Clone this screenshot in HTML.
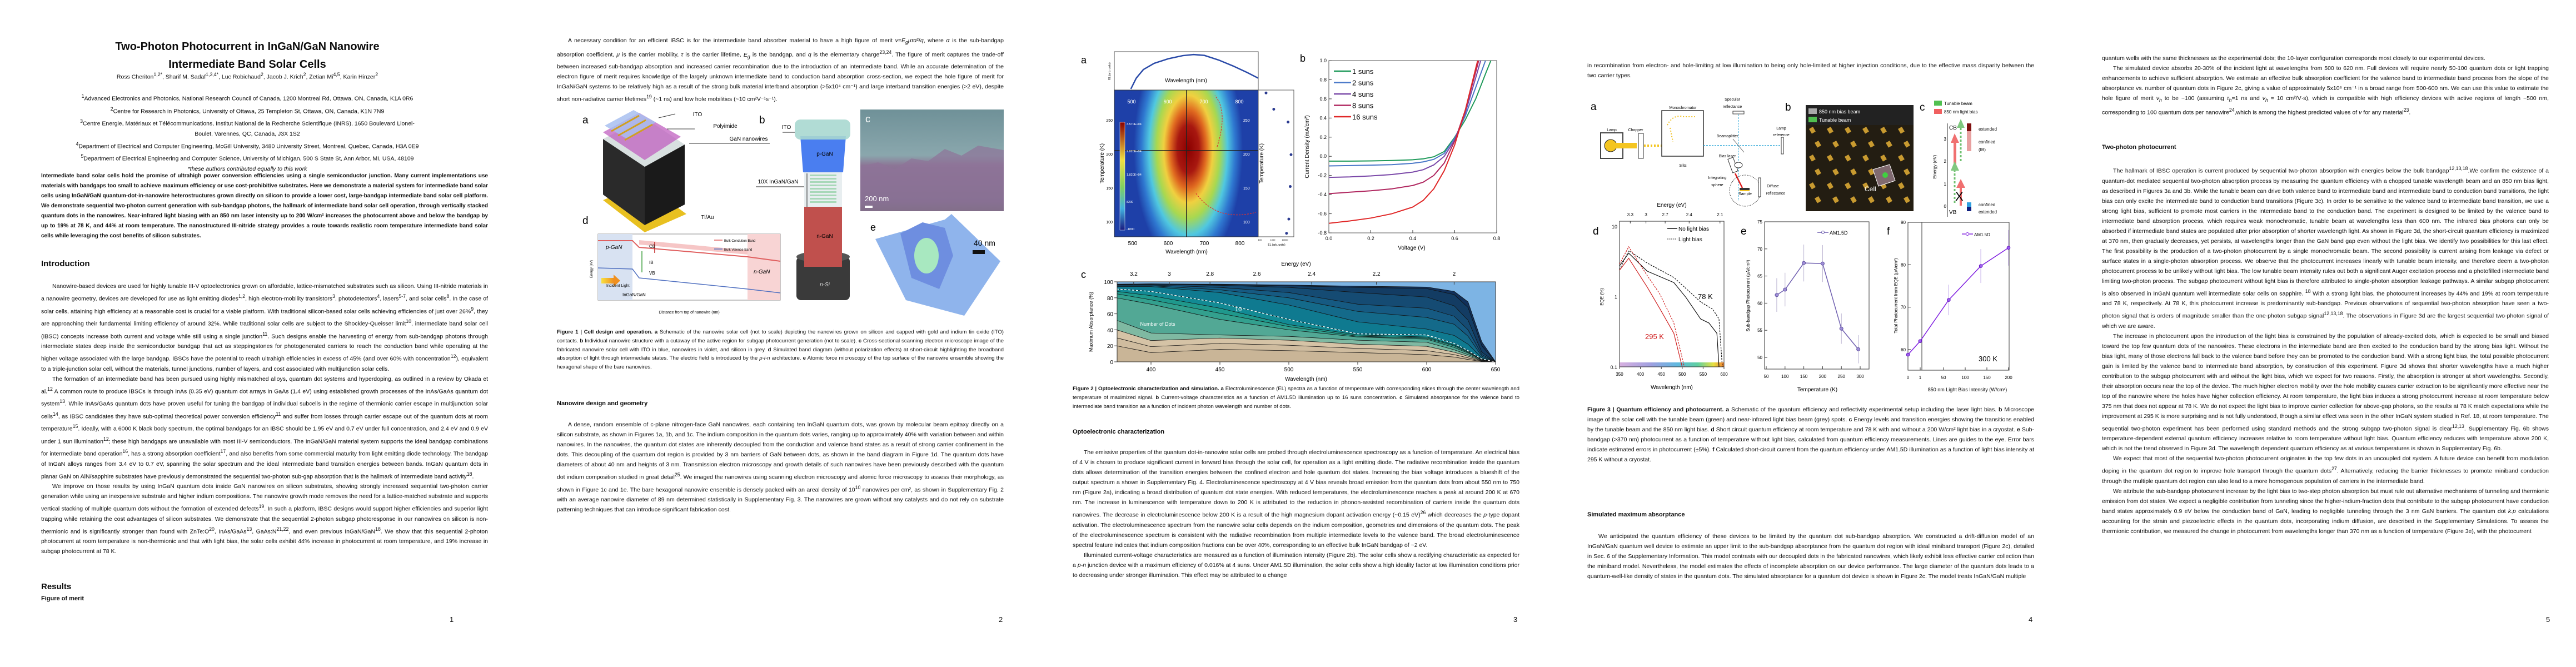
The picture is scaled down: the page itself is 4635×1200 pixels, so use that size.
<!DOCTYPE html>
<html><head><meta charset="utf-8">
<style>
html,body{margin:0;padding:0;background:#fff;}
#root{position:relative;width:4635px;height:1200px;overflow:hidden;background:#fff;font-family:"Liberation Sans",sans-serif;color:#0c0c0c;}
.t{position:absolute;font-size:10.5px;line-height:18px;text-align:justify;overflow:hidden;}
.t p{margin:0;text-indent:20px;}
.c{position:absolute;text-align:center;white-space:nowrap;}
.cap{position:absolute;font-size:9.6px;line-height:15.8px;text-align:justify;overflow:hidden;}
.h{position:absolute;font-weight:bold;white-space:nowrap;}
.pn{position:absolute;font-size:13px;}
svg text{font-family:"Liberation Sans",sans-serif;}
</style></head>
<body>
<div id="root">

<!-- ============ PAGE 1 ============ -->
<div class="c" style="left:0;width:890px;top:68px;font-size:20px;font-weight:bold;line-height:32px;">Two-Photon Photocurrent in InGaN/GaN Nanowire<br>Intermediate Band Solar Cells</div>
<div class="c" style="left:0;width:890px;top:129px;font-size:10.5px;">Ross Cheriton<sup>1,2*</sup>, Sharif M. Sadaf<sup>1,3,4*</sup>, Luc Robichaud<sup>2</sup>, Jacob J. Krich<sup>2</sup>, Zetian Mi<sup>4,5</sup>, Karin Hinzer<sup>2</sup></div>
<div class="c" style="left:0;width:890px;top:164px;font-size:10.5px;line-height:18px;"><sup>1</sup>Advanced Electronics and Photonics, National Research Council of Canada, 1200 Montreal Rd, Ottawa, ON, Canada, K1A 0R6<br><sup>2</sup>Centre for Research in Photonics, University of Ottawa, 25 Templeton St, Ottawa, ON, Canada, K1N 7N9<br><sup>3</sup>Centre Energie, Matériaux et Télécommunications, Institut National de la Recherche Scientifique (INRS), 1650 Boulevard Lionel-<br>Boulet, Varennes, QC, Canada, J3X 1S2<br><sup>4</sup>Department of Electrical and Computer Engineering, McGill University, 3480 University Street, Montreal, Quebec, Canada, H3A 0E9<br><sup>5</sup>Department of Electrical Engineering and Computer Science, University of Michigan, 500 S State St, Ann Arbor, MI, USA, 48109<br><i>*these authors contributed equally to this work</i></div>
<div class="t" style="left:74px;top:308px;width:804px;height:144px;font-weight:bold;font-size:10px;">Intermediate band solar cells hold the promise of ultrahigh power conversion efficiencies using a single semiconductor junction. Many current implementations use materials with bandgaps too small to achieve maximum efficiency or use cost-prohibitive substrates. Here we demonstrate a material system for intermediate band solar cells using InGaN/GaN quantum-dot-in-nanowire heterostructures grown directly on silicon to provide a lower cost, large-bandgap intermediate band solar cell platform. We demonstrate sequential two-photon current generation with sub-bandgap photons, the hallmark of intermediate band solar cell operation, through vertically stacked quantum dots in the nanowires. Near-infrared light biasing with an 850 nm laser intensity up to 200 W/cm² increases the photocurrent above and below the bandgap by up to 19% at 78 K, and 44% at room temperature. The nanostructured III-nitride strategy provides a route towards realistic room temperature intermediate band solar cells while leveraging the cost benefits of silicon substrates.</div>
<div class="h" style="left:74px;top:466px;font-size:15px;">Introduction</div>
<div class="t" style="left:74px;top:506px;width:804px;height:522px;">
<p>Nanowire-based devices are used for highly tunable III-V optoelectronics grown on affordable, lattice-mismatched substrates such as silicon. Using III-nitride materials in a nanowire geometry, devices are developed for use as light emitting diodes<sup>1,2</sup>, high electron-mobility transistors<sup>3</sup>, photodetectors<sup>4</sup>, lasers<sup>5-7</sup>, and solar cells<sup>8</sup>. In the case of solar cells, attaining high efficiency at a reasonable cost is crucial for a viable platform. With traditional silicon-based solar cells achieving efficiencies of just over 26%<sup>9</sup>, they are approaching their fundamental limiting efficiency of around 32%. While traditional solar cells are subject to the Shockley-Queisser limit<sup>10</sup>, intermediate band solar cell (IBSC) concepts increase both current and voltage while still using a single junction<sup>11</sup>. Such designs enable the harvesting of energy from sub-bandgap photons through intermediate states deep inside the semiconductor bandgap that act as steppingstones for photogenerated carriers to reach the conduction band while operating at the higher voltage associated with the large bandgap. IBSCs have the potential to reach ultrahigh efficiencies in excess of 45% (and over 60% with concentration<sup>12</sup>), equivalent to a triple-junction solar cell, without the materials, tunnel junctions, number of layers, and cost associated with multijunction solar cells.</p>
<p>The formation of an intermediate band has been pursued using highly mismatched alloys, quantum dot systems and hyperdoping, as outlined in a review by Okada et al.<sup>12</sup> A common route to produce IBSCs is through InAs (0.35 eV) quantum dot arrays in GaAs (1.4 eV) using established growth processes of the InAs/GaAs quantum dot system<sup>13</sup>. While InAs/GaAs quantum dots have proven useful for tuning the bandgap of individual subcells in the regime of thermionic carrier escape in multijunction solar cells<sup>14</sup>, as IBSC candidates they have sub-optimal theoretical power conversion efficiency<sup>11</sup> and suffer from losses through carrier escape out of the quantum dots at room temperature<sup>15</sup>. Ideally, with a 6000 K black body spectrum, the optimal bandgaps for an IBSC should be 1.95 eV and 0.7 eV under full concentration, and 2.4 eV and 0.9 eV under 1 sun illumination<sup>12</sup>; these high bandgaps are unavailable with most III-V semiconductors. The InGaN/GaN material system supports the ideal bandgap combinations for intermediate band operation<sup>16</sup>, has a strong absorption coefficient<sup>17</sup>, and also benefits from some commercial maturity from light emitting diode technology. The bandgap of InGaN alloys ranges from 3.4 eV to 0.7 eV, spanning the solar spectrum and the ideal intermediate band transition energies between bands. InGaN quantum dots in planar GaN on AlN/sapphire substrates have previously demonstrated the sequential two-photon sub-gap absorption that is the hallmark of intermediate band activity<sup>18</sup>.</p>
<p>We improve on those results by using InGaN quantum dots inside GaN nanowires on silicon substrates, showing strongly increased sequential two-photon carrier generation while using an inexpensive substrate and higher indium compositions. The nanowire growth mode removes the need for a lattice-matched substrate and supports vertical stacking of multiple quantum dots without the formation of extended defects<sup>19</sup>. In such a platform, IBSC designs would support higher efficiencies and superior light trapping while retaining the cost advantages of silicon substrates. We demonstrate that the sequential 2-photon subgap photoresponse in our nanowires on silicon is non-thermionic and is significantly stronger than found with ZnTe:O<sup>20</sup>, InAs/GaAs<sup>13</sup>, GaAs:N<sup>21,22</sup>, and even previous InGaN/GaN<sup>18</sup>. We show that this sequential 2-photon photocurrent at room temperature is non-thermionic and that with light bias, the solar cells exhibit 44% increase in photocurrent at room temperature, and 19% increase in subgap photocurrent at 78 K.</p>
</div>
<div class="h" style="left:74px;top:1047px;font-size:15px;">Results</div>
<div class="h" style="left:74px;top:1071px;font-size:11px;">Figure of merit</div>
<div class="pn" style="left:809px;top:1107px;">1</div>

<!-- ============ PAGE 2 ============ -->
<div class="t" style="left:1002px;top:64px;width:804px;height:126px;"><p>A necessary condition for an efficient IBSC is for the intermediate band absorber material to have a high figure of merit <i>v</i>=<i>E<sub>g</sub>μτα</i>²/<i>q</i>, where <i>α</i> is the sub-bandgap absorption coefficient, <i>μ</i> is the carrier mobility, <i>τ</i> is the carrier lifetime, <i>E<sub>g</sub></i> is the bandgap, and <i>q</i> is the elementary charge<sup>23,24</sup>. The figure of merit captures the trade-off between increased sub-bandgap absorption and increased carrier recombination due to the introduction of an intermediate band. While an accurate determination of the electron figure of merit requires knowledge of the largely unknown intermediate band to conduction band absorption cross-section, we expect the hole figure of merit for InGaN/GaN systems to be relatively high as a result of the strong bulk material interband absorption (&gt;5x10⁴ cm⁻¹) and large interband transition energies (&gt;2 eV), despite short non-radiative carrier lifetimes<sup>19</sup> (~1 ns) and low hole mobilities (~10 cm²V⁻¹s⁻¹).</p></div>
<div class="cap" style="left:1002px;top:590px;width:804px;height:80px;"><b>Figure 1 | Cell design and operation. a</b> Schematic of the nanowire solar cell (not to scale) depicting the nanowires grown on silicon and capped with gold and indium tin oxide (ITO) contacts. <b>b</b> Individual nanowire structure with a cutaway of the active region for subgap photocurrent generation (not to scale). <b>c</b> Cross-sectional scanning electron microscope image of the fabricated nanowire solar cell with ITO in blue, nanowires in violet, and silicon in grey. <b>d</b> Simulated band diagram (without polarization effects) at short-circuit highlighting the broadband absorption of light through intermediate states. The electric field is introduced by the <i>p-i-n</i> architecture. <b>e</b> Atomic force microscopy of the top surface of the nanowire ensemble showing the hexagonal shape of the bare nanowires.</div>
<div class="h" style="left:1002px;top:720px;font-size:11px;">Nanowire design and geometry</div>
<div class="t" style="left:1002px;top:755px;width:804px;height:180px;"><p>A dense, random ensemble of c-plane nitrogen-face GaN nanowires, each containing ten InGaN quantum dots, was grown by molecular beam epitaxy directly on a silicon substrate, as shown in Figures 1a, 1b, and 1c. The indium composition in the quantum dots varies, ranging up to approximately 40% with variation between and within nanowires. In the nanowires, the quantum dot states are inherently decoupled from the conduction and valence band states as a result of strong carrier confinement in the dots. This decoupling of the quantum dot region is provided by 3 nm barriers of GaN between dots, as shown in the band diagram in Figure 1d. The quantum dots have diameters of about 40 nm and heights of 3 nm. Transmission electron microscopy and growth details of such nanowires have been previously described with the quantum dot indium composition studied in great detail<sup>25</sup>. We imaged the nanowires using scanning electron microscopy and atomic force microscopy to assess their morphology, as shown in Figure 1c and 1e. The bare hexagonal nanowire ensemble is densely packed with an areal density of 10<sup>10</sup> nanowires per cm², as shown in Supplementary Fig. 2 with an average nanowire diameter of 89 nm determined statistically in Supplementary Fig. 3. The nanowires are grown without any catalysts and do not rely on substrate patterning techniques that can introduce significant fabrication cost.</p></div>
<div class="pn" style="left:1797px;top:1107px;">2</div>

<!-- ============ PAGE 3 ============ -->
<div class="cap" style="left:1930px;top:692px;width:804px;height:48px;"><b>Figure 2 | Optoelectronic characterization and simulation. a</b> Electroluminescence (EL) spectra as a function of temperature with corresponding slices through the center wavelength and temperature of maximized signal. <b>b</b> Current-voltage characteristics as a function of AM1.5D illumination up to 16 suns concentration. <b>c</b> Simulated absorptance for the valence band to intermediate band transition as a function of incident photon wavelength and number of dots.</div>
<div class="h" style="left:1930px;top:771px;font-size:11px;">Optoelectronic characterization</div>
<div class="t" style="left:1930px;top:805px;width:804px;height:270px;"><p>The emissive properties of the quantum dot-in-nanowire solar cells are probed through electroluminescence spectroscopy as a function of temperature. An electrical bias of 4 V is chosen to produce significant current in forward bias through the solar cell, for operation as a light emitting diode. The radiative recombination inside the quantum dots allows determination of the transition energies between the confined electron and hole quantum dot states. Increasing the bias voltage introduces a blueshift of the output spectrum a shown in Supplementary Fig. 4. Electroluminescence spectroscopy at 4 V bias reveals broad emission from the quantum dots from about 550 nm to 750 nm (Figure 2a), indicating a broad distribution of quantum dot state energies. With reduced temperatures, the electroluminescence reaches a peak at around 200 K at 670 nm. The increase in luminescence with temperature down to 200 K is attributed to the reduction in phonon-assisted recombination of carriers inside the quantum dots nanowires. The decrease in electroluminescence below 200 K is a result of the high magnesium dopant activation energy (~0.15 eV)<sup>26</sup> which decreases the <i>p</i>-type dopant activation. The electroluminescence spectrum from the nanowire solar cells depends on the indium composition, geometries and dimensions of the quantum dots. The peak of the electroluminescence spectrum is consistent with the radiative recombination from multiple intermediate levels to the valence band. The broad electroluminescence spectral feature indicates that indium composition fractions can be over 40%, corresponding to an effective bulk InGaN bandgap of ~2 eV.</p><p>Illuminated current-voltage characteristics are measured as a function of illumination intensity (Figure 2b). The solar cells show a rectifying characteristic as expected for a <i>p-n</i> junction device with a maximum efficiency of 0.016% at 4 suns. Under AM1.5D illumination, the solar cells show a high ideality factor at low illumination conditions prior to decreasing under stronger illumination. This effect may be attributed to a change</p></div>
<div class="pn" style="left:2723px;top:1107px;">3</div>

<!-- ============ PAGE 4 ============ -->
<div class="t" style="left:2856px;top:109px;width:804px;height:36px;">in recombination from electron- and hole-limiting at low illumination to being only hole-limited at higher injection conditions, due to the effective mass disparity between the two carrier types.</div>
<div class="t" style="left:2856px;top:728px;width:804px;height:126px;"><b>Figure 3 | Quantum efficiency and photocurrent. a</b> Schematic of the quantum efficiency and reflectivity experimental setup including the laser light bias. <b>b</b> Microscope image of the solar cell with the tunable beam (green) and near-infrared light bias beam (grey) spots. <b>c</b> Energy levels and transition energies showing the transitions enabled by the tunable beam and the 850 nm light bias. <b>d</b> Short circuit quantum efficiency at room temperature and 78 K with and without a 200 W/cm² light bias in a cryostat. <b>e</b> Sub-bandgap (&gt;370 nm) photocurrent as a function of temperature without light bias, calculated from quantum efficiency measurements. Lines are guides to the eye. Error bars indicate estimated errors in photocurrent (±5%). <b>f</b> Calculated short-circuit current from the quantum efficiency under AM1.5D illumination as a function of light bias intensity at 295 K without a cryostat.</div>
<div class="h" style="left:2856px;top:920px;font-size:11px;">Simulated maximum absorptance</div>
<div class="t" style="left:2856px;top:956px;width:804px;height:108px;"><p>We anticipated the quantum efficiency of these devices to be limited by the quantum dot sub-bandgap absorption. We constructed a drift-diffusion model of an InGaN/GaN quantum well device to estimate an upper limit to the sub-bandgap absorptance from the quantum dot region with ideal miniband transport (Figure 2c), detailed in Sec. 6 of the Supplementary Information. This model contrasts with our decoupled dots in the fabricated nanowires, which likely exhibit less effective carrier collection than the miniband model. Nevertheless, the model estimates the effects of incomplete absorption on our device performance. The large diameter of the quantum dots leads to a quantum-well-like density of states in the quantum dots. The simulated absorptance for a quantum dot device is shown in Figure 2c. The model treats InGaN/GaN multiple</p></div>
<div class="pn" style="left:3650px;top:1107px;">4</div>

<!-- ============ PAGE 5 ============ -->
<div class="t" style="left:3782px;top:96px;width:804px;height:144px;">quantum wells with the same thicknesses as the experimental dots; the 10-layer configuration corresponds most closely to our experimental devices.<p>The simulated device absorbs 20-30% of the incident light at wavelengths from 500 to 620 nm. Full devices will require nearly 50-100 quantum dots or light trapping enhancements to achieve sufficient absorption. We estimate an effective bulk absorption coefficient for the valence band to intermediate band process from the slope of the absorptance vs. number of quantum dots in Figure 2c, giving a value of approximately 5x10⁵ cm⁻¹ in a broad range from 500-600 nm. We can use this value to estimate the hole figure of merit <i>v<sub>h</sub></i> to be ~100 (assuming <i>τ<sub>h</sub></i>=1 ns and <i>v<sub>h</sub></i> = 10 cm²/V·s), which is compatible with high efficiency devices with active regions of length ~500 nm, corresponding to 100 quantum dots per nanowire<sup>24</sup>,which is among the highest predicted values of <i>v</i> for any material<sup>23</sup>.</p></div>
<div class="h" style="left:3782px;top:259px;font-size:11px;">Two-photon photocurrent</div>
<div class="t" style="left:3782px;top:294px;width:804px;height:792px;"><p>The hallmark of IBSC operation is current produced by sequential two-photon absorption with energies below the bulk bandgap<sup>12,13,18</sup>.We confirm the existence of a quantum-dot mediated sequential two-photon absorption process by measuring the quantum efficiency with a chopped tunable wavelength beam and an 850 nm bias light, as described in Figures 3a and 3b. While the tunable beam can drive both valence band to intermediate band and intermediate band to conduction band transitions, the light bias can only excite the intermediate band to conduction band transitions (Figure 3c). In order to be sensitive to the valence band to intermediate band transition, we use a strong light bias, sufficient to promote most carriers in the intermediate band to the conduction band. The experiment is designed to be limited by the valence band to intermediate band absorption process, which requires weak monochromatic, tunable beam at wavelengths less than 600 nm. The infrared bias photons can only be absorbed if intermediate band states are populated after prior absorption of shorter wavelength light. As shown in Figure 3d, the short-circuit quantum efficiency is maximized at 370 nm, then gradually decreases, yet persists, at wavelengths longer than the GaN band gap even without the light bias. We identify two possibilities for this last effect. The first possibility is the production of a two-photon photocurrent by a single monochromatic beam. The second possibility is current arising from leakage via defect or surface states in a single-photon absorption process. We observe that the photocurrent increases linearly with tunable beam intensity, and therefore deem a two-photon photocurrent process to be unlikely without light bias. The low tunable beam intensity rules out both a significant Auger excitation process and a photofilled intermediate band limiting two-photon process. The subgap photocurrent without light bias is therefore attributed to single-photon absorption leakage pathways. A similar subgap photocurrent is also observed in InGaN quantum well intermediate solar cells on sapphire. <sup>18</sup> With a strong light bias, the photocurrent increases by 44% and 19% at room temperature and 78 K, respectively. At 78 K, this photocurrent increase is predominantly sub-bandgap. Previous observations of sequential two-photon absorption have seen a two-photon signal that is orders of magnitude smaller than the one-photon subgap signal<sup>12,13,18</sup>. The observations in Figure 3d are the largest sequential two-photon signal of which we are aware.</p><p>The increase in photocurrent upon the introduction of the light bias is constrained by the population of already-excited dots, which is expected to be small and biased toward the top few quantum dots of the nanowires. These electrons in the intermediate band are then excited to the conduction band by the strong bias light. Without the bias light, many of those electrons fall back to the valence band before they can be promoted to the conduction band. With a strong light bias, the total possible photocurrent gain is limited by the valence band to intermediate band absorption, by construction of this experiment. Figure 3d shows that shorter wavelengths have a much higher contribution to the subgap photocurrent with and without the light bias, which we expect for two reasons. Firstly, the absorption is stronger at short wavelengths. Secondly, their absorption occurs near the top of the device. The much higher electron mobility over the hole mobility causes carrier extraction to be significantly more effective near the top of the nanowire where the holes have higher collection efficiency. At room temperature, the light bias induces a strong photocurrent increase at room temperature below 375 nm that does not appear at 78 K. We do not expect the light bias to improve carrier collection for above-gap photons, so the results at 78 K match expectations while the improvement at 295 K is more surprising and is not fully understood, though a similar effect was seen in the other InGaN system studied in Ref. 18, at room temperature. The sequential two-photon experiment has been performed using standard methods and the strong subgap two-photon signal is clear<sup>12,13</sup>. Supplementary Fig. 6b shows temperature-dependent external quantum efficiency increases relative to room temperature without light bias. Quantum efficiency reduces with temperature above 200 K, which is not the trend observed in Figure 3d. The wavelength dependent quantum efficiency as at various temperatures is shown in Supplementary Fig. 6b.</p><p>We expect that most of the sequential two-photon photocurrent originates in the top few dots in an uncoupled dot system. A future device can benefit from modulation doping in the quantum dot region to improve hole transport through the quantum dots<sup>27</sup>. Alternatively, reducing the barrier thicknesses to promote miniband conduction through the multiple quantum dot region can also lead to a more homogenous population of carriers in the intermediate band.</p><p>We attribute the sub-bandgap photocurrent increase by the light bias to two-step photon absorption but must rule out alternative mechanisms of tunneling and thermionic emission from dot states. We expect a negligible contribution from tunneling since the higher-indium-fraction dots that contribute to the subgap photocurrent have conduction band states approximately 0.9 eV below the conduction band of GaN, leading to negligible tunneling through the 3 nm GaN barriers. The quantum dot <i>k.p</i> calculations accounting for the strain and piezoelectric effects in the quantum dots, incorporating indium diffusion, are described in the Supplementary Simulations. To assess the thermionic contribution, we measured the change in photocurrent from wavelengths longer than 370 nm as a function of temperature (Figure 3e), with the photocurrent</p></div>
<div class="pn" style="left:4581px;top:1107px;">5</div>

<!-- ============ FIGURES SVG ============ -->
<svg id="figs" width="4635" height="1200" style="position:absolute;left:0;top:0;" xmlns="http://www.w3.org/2000/svg">
<defs>
 <linearGradient id="semG" x1="0" y1="0" x2="0" y2="1"><stop offset="0" stop-color="#6f9198"/><stop offset="0.45" stop-color="#8aa7ad"/><stop offset="0.55" stop-color="#8c7596"/><stop offset="0.9" stop-color="#7a6a88"/><stop offset="1" stop-color="#666"/></linearGradient>
 <radialGradient id="heatG" cx="0.5" cy="0.5" r="0.5"><stop offset="0" stop-color="#8b0000"/><stop offset="0.2" stop-color="#a81810"/><stop offset="0.33" stop-color="#e06a20"/><stop offset="0.45" stop-color="#f0d040"/><stop offset="0.58" stop-color="#a8d850"/><stop offset="0.72" stop-color="#50c8e0"/><stop offset="0.86" stop-color="#2f78d0"/><stop offset="1" stop-color="#1e40a8"/></radialGradient>
 <radialGradient id="heatTop" cx="0.5" cy="0.5" r="0.5"><stop offset="0" stop-color="#0c1a60"/><stop offset="1" stop-color="#1e40a8" stop-opacity="0"/></radialGradient>
 <linearGradient id="cbarG" x1="0" y1="0" x2="0" y2="1"><stop offset="0" stop-color="#8b0000"/><stop offset="0.35" stop-color="#f0e040"/><stop offset="0.6" stop-color="#80d060"/><stop offset="0.8" stop-color="#40b0e0"/><stop offset="1" stop-color="#1a1a80"/></linearGradient>
 <linearGradient id="rainG" x1="0" y1="0" x2="1" y2="0"><stop offset="0" stop-color="#d8b0e0"/><stop offset="0.3" stop-color="#a0a0e0"/><stop offset="0.55" stop-color="#60b8e0"/><stop offset="0.75" stop-color="#60d0a0"/><stop offset="0.9" stop-color="#e8e040"/><stop offset="1" stop-color="#f08030"/></linearGradient>
 <linearGradient id="arrowY" x1="0" y1="0" x2="1" y2="0"><stop offset="0" stop-color="#f8e040"/><stop offset="1" stop-color="#f09020"/></linearGradient>
 <clipPath id="clipJV"><rect x="2391" y="109" width="302" height="310"/></clipPath>
 <clipPath id="clipEQE"><rect x="2914" y="398" width="188" height="262"/></clipPath>
 <clipPath id="clipAbs"><rect x="2010" y="507" width="681" height="144"/></clipPath>
 <clipPath id="clipEL"><rect x="2005" y="93" width="259" height="69"/></clipPath>
 <clipPath id="clipHeat"><rect x="2005" y="162" width="259" height="264"/></clipPath>
</defs>

<!-- ===== Figure 1 ===== -->
<g>
 <text x="1048" y="222" font-size="19">a</text>
 <g>
  <polygon points="1085,360 1160,418 1235,385 1160,330" fill="#e8c020"/>
  <polygon points="1085,250 1160,300 1160,405 1085,350" fill="#2a2a2a"/>
  <polygon points="1160,300 1232,260 1232,368 1160,405" fill="#1a1a1a"/>
  <polygon points="1085,250 1160,300 1232,260 1160,212" fill="#d8e0e0"/>
  <polygon points="1085,238 1150,203 1225,246 1160,288" fill="#c060c0" opacity="0.75"/>
  <polygon points="1088,226 1140,198 1180,220 1128,250" fill="#a8c0f0" opacity="0.85"/>
  <line x1="1100" y1="236" x2="1150" y2="208" stroke="#d0a020" stroke-width="3"/>
  <line x1="1112" y1="244" x2="1162" y2="216" stroke="#d0a020" stroke-width="3"/>
  <line x1="1124" y1="252" x2="1174" y2="224" stroke="#d0a020" stroke-width="3"/>
  <line x1="1215" y1="205" x2="1185" y2="212" stroke="#333"/><text x="1255" y="209" font-size="10" text-anchor="middle">ITO</text>
  <line x1="1250" y1="232" x2="1200" y2="232" stroke="#333"/><text x="1305" y="230" font-size="10" text-anchor="middle">Polyimide</text>
  <line x1="1385" y1="258" x2="1240" y2="258" stroke="#333"/><text x="1347" y="253" font-size="10" text-anchor="middle">GaN nanowires</text>
  <text x="1242" y="334" font-size="10" fill="#fff" text-anchor="middle">n-Si</text>
  <text x="1273" y="394" font-size="10" text-anchor="middle">Ti/Au</text>
 </g>
 <text x="1366" y="222" font-size="19">b</text>
 <g>
  <rect x="1433" y="462" width="96" height="78" rx="8" fill="#3a3a3a"/>
  <ellipse cx="1481" cy="462" rx="48" ry="10" fill="#555"/>
  <rect x="1447" y="370" width="68" height="110" fill="#c0504d"/>
  <rect x="1447" y="308" width="68" height="64" fill="#e8eef0"/>
  <g fill="#a8d8b8"><rect x="1457" y="314" width="48" height="3"/><rect x="1457" y="320" width="48" height="3"/><rect x="1457" y="326" width="48" height="3"/><rect x="1457" y="332" width="48" height="3"/><rect x="1457" y="338" width="48" height="3"/><rect x="1457" y="344" width="48" height="3"/><rect x="1457" y="350" width="48" height="3"/><rect x="1457" y="356" width="48" height="3"/><rect x="1457" y="362" width="48" height="3"/></g>
  <polygon points="1440,245 1522,245 1517,310 1445,310" fill="#4a7ef0"/>
  <rect x="1430" y="215" width="100" height="36" rx="10" fill="#a8d8d0" opacity="0.9"/>
  <line x1="1408" y1="238" x2="1430" y2="238" stroke="#222"/><text x="1415" y="232" font-size="10" text-anchor="middle">ITO</text>
  <line x1="1360" y1="336" x2="1447" y2="336" stroke="#222"/><text x="1400" y="330" font-size="10" text-anchor="middle">10X InGaN/GaN</text>
  <line x1="1452" y1="312" x2="1452" y2="372" stroke="#222"/>
  <text x="1484" y="280" font-size="10" text-anchor="middle">p-GaN</text>
  <text x="1484" y="428" font-size="10" text-anchor="middle">n-GaN</text>
  <text x="1484" y="515" font-size="10" fill="#ddd" text-anchor="middle" font-style="italic">n-Si</text>
 </g>
 <g>
  <rect x="1548" y="197" width="258" height="183" fill="url(#semG)"/>
  <path d="M1548,300 L1580,292 L1610,305 L1640,285 L1670,290 L1700,268 L1730,280 L1760,262 L1806,270 L1806,380 L1548,380 Z" fill="#8e7498" opacity="0.7"/>
  <text x="1557" y="220" font-size="18" fill="#fff">c</text>
  <text x="1556" y="362" font-size="13" fill="#fff">200 nm</text>
  <rect x="1556" y="370" width="14" height="4" fill="#fff"/>
 </g>
 <text x="1566" y="415" font-size="18">e</text>
 <g>
  <polygon points="1575,430 1700,395 1712,385 1800,470 1735,568 1630,540" fill="#8fb4ec"/>
  <polygon points="1620,420 1660,400 1700,410 1715,460 1690,520 1640,500" fill="#6e8ee0"/>
  <ellipse cx="1667" cy="460" rx="22" ry="32" fill="#a8e8c0"/>
  <text x="1752" y="442" font-size="14">40 nm</text>
  <rect x="1750" y="450" width="22" height="7" fill="#111"/>
 </g>
 <text x="1048" y="403" font-size="19">d</text>
 <g>
  <rect x="1076" y="421" width="328" height="119" fill="#fff" stroke="#888"/>
  <rect x="1076" y="421" width="62" height="119" fill="#d8e2f2"/>
  <rect x="1345" y="421" width="59" height="119" fill="#f8d4d4"/>
  <polyline points="1076,433 1138,433 1150,445 1345,462 1404,470" fill="none" stroke="#e06060" stroke-width="2"/>
  <polyline points="1076,482 1138,484 1150,500 1345,520 1404,527" fill="none" stroke="#5070c0" stroke-width="1.5"/>
  <polygon points="1150,432 1345,450 1345,458 1150,440" fill="#f0a0a0" opacity="0.6"/>
  <rect x="1082" y="500" width="22" height="10" fill="url(#arrowY)"/><polygon points="1104,494 1116,505 1104,516" fill="#f09020"/>
  <line x1="1155" y1="490" x2="1155" y2="452" stroke="#40a040" stroke-width="1.5"/>
  <line x1="1178" y1="455" x2="1178" y2="435" stroke="#c02020" stroke-width="1.5"/>
  <text x="1090" y="448" font-size="10" font-style="italic">p-GaN</text>
  <text x="1356" y="492" font-size="10" font-style="italic">n-GaN</text>
  <text x="1168" y="446" font-size="8">CB</text><text x="1168" y="475" font-size="8">IB</text><text x="1168" y="494" font-size="8">VB</text>
  <text x="1091" y="516" font-size="7">Incident Light</text>
  <text x="1120" y="533" font-size="8">InGaN/GaN</text>
  <line x1="1285" y1="432" x2="1300" y2="432" stroke="#e06060" stroke-width="1.5"/><text x="1303" y="435" font-size="6">Bulk Condution Band</text>
  <line x1="1285" y1="448" x2="1300" y2="448" stroke="#5070c0" stroke-width="1.5"/><text x="1303" y="451" font-size="6">Bulk Valence Band</text>
  <text x="1066" y="484" font-size="6" transform="rotate(-90 1066 484)" text-anchor="middle">Energy (eV)</text>
  <text x="1240" y="564" font-size="7" text-anchor="middle">Distance from top of nanowire (nm)</text>
 </g>
</g>

<!-- ===== Figure 2a (EL heatmap) ===== -->
<g>
 <text x="1945" y="114" font-size="18">a</text>
 <rect x="2005" y="93" width="259" height="69" fill="#fff" stroke="#555"/>
 <g id="elCurve" clip-path="url(#clipEL)"></g>
 <text x="2134" y="148" font-size="10" text-anchor="middle">Wavelength (nm)</text>
 <text x="1998" y="128" font-size="5" transform="rotate(-90 1998 128)" text-anchor="middle">EL (arb. units)</text>
 <g clip-path="url(#clipHeat)">
  <rect x="2005" y="162" width="259" height="264" fill="#1e40a8"/>
  <ellipse cx="2135" cy="180" rx="40" ry="22" fill="url(#heatTop)"/>
  <ellipse cx="2138" cy="268" rx="98" ry="215" fill="url(#heatG)"/>
 </g>
 <rect x="2005" y="162" width="259" height="264" fill="none" stroke="#333"/>
 <line x1="2135" y1="162" x2="2135" y2="426" stroke="#222" stroke-width="1.5"/>
 <line x1="2005" y1="271" x2="2264" y2="271" stroke="#222" stroke-width="1.5"/>
 <rect x="2015" y="220" width="9" height="194" fill="url(#cbarG)" stroke="#fff" stroke-width="0.5"/>
 <g font-size="5.5" fill="#fff"><text x="2027" y="225">3.570E+04</text><text x="2027" y="274">2.820E+04</text><text x="2027" y="316">1.820E+04</text><text x="2027" y="365">8200</text><text x="2027" y="414">-1800</text></g>
 <g font-size="9" fill="#fff" text-anchor="middle"><text x="2036" y="186">500</text><text x="2101" y="186">600</text><text x="2166" y="186">700</text><text x="2230" y="186">800</text></g>
 <g font-size="7" fill="#fff"><text x="2237" y="219">250</text><text x="2237" y="280">200</text><text x="2237" y="341">150</text><text x="2237" y="402">100</text></g>
 <path d="M2190,264 Q2210,200 2186,172" fill="none" stroke="#e03030" stroke-dasharray="3,2" stroke-width="1.2"/>
 <path d="M2152,348 Q2190,400 2260,382" fill="none" stroke="#e03030" stroke-dasharray="3,2" stroke-width="1.2"/>
 <g font-size="7" text-anchor="end"><text x="2002" y="219">250</text><text x="2002" y="280">200</text><text x="2002" y="341">150</text><text x="2002" y="402">100</text></g>
 <g font-size="10" text-anchor="middle"><text x="2038" y="441">500</text><text x="2102" y="441">600</text><text x="2167" y="441">700</text><text x="2231" y="441">800</text></g>
 <text x="2135" y="456" font-size="10" text-anchor="middle">Wavelength (nm)</text>
 <text x="1986" y="294" font-size="10" transform="rotate(-90 1986 294)" text-anchor="middle">Temperature (K)</text>
 <rect x="2264" y="162" width="64" height="264" fill="#fff" stroke="#555"/>
 <text x="2273" y="294" font-size="10" transform="rotate(-90 2273 294)" text-anchor="middle">Temperature (K)</text>
 <g id="elTempDots"></g>
 <g font-size="4" text-anchor="middle"><text x="2267" y="433">100</text><text x="2290" y="433">1000</text><text x="2312" y="433">10000</text></g>
 <text x="2297" y="442" font-size="5" text-anchor="middle">EL (arb. units)</text>
</g>

<!-- ===== Figure 2b (JV) ===== -->
<g>
 <text x="2339" y="111" font-size="18">b</text>
 <rect x="2391" y="109" width="302" height="310" fill="none" stroke="#555"/>
 <g id="jvAxes"></g>
 <g id="jvCurves" clip-path="url(#clipJV)"></g>
 <g id="jvLegend"></g>
 <text x="2540" y="449" font-size="10" text-anchor="middle">Voltage (V)</text>
 <text x="2355" y="264" font-size="10" transform="rotate(-90 2355 264)" text-anchor="middle">Current Density (mA/cm²)</text>
</g>

<!-- ===== Figure 2c (absorptance) ===== -->
<g>
 <text x="1945" y="500" font-size="18">c</text>
 <rect x="2010" y="507" width="681" height="144" fill="#7db4e4"/>
 <g id="absAreas" clip-path="url(#clipAbs)"></g>
 <rect x="2010" y="507" width="681" height="144" fill="none" stroke="#333"/>
 <g id="absAxes"></g>
 <text x="2332" y="478" font-size="10" text-anchor="middle">Energy (eV)</text>
 <text x="2350" y="685" font-size="10" text-anchor="middle">Wavelength (nm)</text>
 <text x="1966" y="579" font-size="9" transform="rotate(-90 1966 579)" text-anchor="middle">Maximum Absorptance (%)</text>
 <text x="2083" y="586" font-size="9" fill="#fff" text-anchor="middle">Number of Dots</text>
 <text x="2222" y="560" font-size="11" fill="#fff">10</text>
</g>

<!-- ===== Figure 3a schematic ===== -->
<g font-size="7">
 <text x="2862" y="198" font-size="19">a</text>
 <rect x="2880" y="239" width="40" height="46" fill="#fff" stroke="#444" stroke-width="2"/>
 <circle cx="2898" cy="262" r="11" fill="#f4c520" stroke="#222"/>
 <rect x="2905" y="257" width="40" height="10" fill="#f4c520"/>
 <rect x="2948" y="240" width="9" height="45" fill="#fff" stroke="#333"/>
 <line x1="2958" y1="262" x2="2990" y2="262" stroke="#f4c520" stroke-width="4" stroke-dasharray="3,3"/>
 <rect x="2990" y="199" width="75" height="82" fill="#fff" stroke="#333" stroke-width="1.5"/>
 <path d="M3000,225 Q3010,205 3030,210 L3050,210 M3005,230 L3010,255" stroke="#f0c020" stroke-width="2" stroke-dasharray="2,3" fill="none"/>
 <line x1="3065" y1="262" x2="3207" y2="262" stroke="#30a8d8" stroke-width="1.5" stroke-dasharray="3,2"/>
 <line x1="3128" y1="206" x2="3128" y2="362" stroke="#30a8d8" stroke-width="1" stroke-dasharray="3,2"/>
 <rect x="3118" y="200" width="20" height="5" fill="#fff" stroke="#333"/>
 <rect x="3205" y="247" width="4" height="30" fill="#fff" stroke="#333"/>
 <line x1="3118" y1="250" x2="3138" y2="274" stroke="#777"/>
 <rect x="3113" y="284" width="10" height="26" fill="#fff" stroke="#333" transform="rotate(-20 3118 297)"/>
 <line x1="3122" y1="312" x2="3135" y2="338" stroke="#e02020" stroke-width="2.5"/>
 <ellipse cx="3128" cy="297" rx="7" ry="5" fill="#fff" stroke="#333"/>
 <circle cx="3140" cy="343" r="28" fill="none" stroke="#333" stroke-dasharray="1.5,1.5"/>
 <rect x="3130" y="338" width="18" height="4" fill="#333"/><rect x="3130" y="342" width="18" height="2" fill="#f0c020"/>
 <rect x="3164" y="320" width="4" height="34" fill="#fff" stroke="#333"/>
 <text x="2900" y="236" text-anchor="middle">Lamp</text><text x="2943" y="236" text-anchor="middle">Chopper</text>
 <text x="3028" y="196" text-anchor="middle">Monochromator</text>
 <text x="3117" y="181" text-anchor="middle">Specular</text><text x="3117" y="194" text-anchor="middle">reflectance</text>
 <text x="3108" y="247" text-anchor="middle">Beamsplitter</text>
 <text x="3205" y="233" text-anchor="middle">Lamp</text><text x="3205" y="245" text-anchor="middle">reference</text>
 <text x="3108" y="283" text-anchor="middle">Bias laser</text>
 <text x="3090" y="322" text-anchor="middle">Integrating</text><text x="3090" y="335" text-anchor="middle">sphere</text>
 <text x="3140" y="351" text-anchor="middle">Sample</text>
 <text x="3190" y="337" text-anchor="middle">Diffuse</text><text x="3195" y="350" text-anchor="middle">reflectance</text>
 <text x="3028" y="300" text-anchor="middle">Slits</text>
</g>

<!-- ===== Figure 3b photo ===== -->
<g>
 <text x="3212" y="199" font-size="19">b</text>
 <rect x="3249" y="189" width="194" height="191" fill="#231d12"/>
 <rect x="3249" y="189" width="194" height="36" fill="#222"/>
 <rect x="3254" y="195" width="15" height="10" fill="#aaa"/><text x="3273" y="204" font-size="9" fill="#fff">850 nm bias beam</text>
 <rect x="3254" y="210" width="15" height="10" fill="#50c050"/><text x="3273" y="219" font-size="9" fill="#fff">Tunable beam</text>
 <g id="photoPads" fill="#c89a30"></g>
 <polygon points="3370,305 3400,296 3410,325 3380,335" fill="#806a70" stroke="#fff"/>
 <circle cx="3392" cy="315" r="5" fill="#40d040"/>
 <text x="3355" y="344" font-size="12" fill="#fff">Cell</text>
</g>

<!-- ===== Figure 3c energy levels ===== -->
<g>
 <text x="3454" y="199" font-size="19">c</text>
 <rect x="3480" y="181" width="14" height="9" fill="#50c050"/><text x="3498" y="189" font-size="8">Tunable beam</text>
 <rect x="3480" y="196" width="14" height="9" fill="#f06060"/><text x="3498" y="204" font-size="8">850 nm light bias</text>
 <line x1="3504" y1="222" x2="3504" y2="390" stroke="#333"/>
 <g font-size="8" text-anchor="end"><text x="3502" y="374">0</text><text x="3502" y="334">1</text><text x="3502" y="293">2</text><text x="3502" y="253">3</text></g>
 <text x="3484" y="300" font-size="8" transform="rotate(-90 3484 300)" text-anchor="middle">Energy (eV)</text>
 <text x="3507" y="233" font-size="10">CB</text><text x="3507" y="385" font-size="10">VB</text>
 <rect x="3515" y="255" width="5" height="50" fill="#f07070"/><polygon points="3510,257 3517,240 3525,257" fill="#f07070"/>
 <line x1="3517" y1="365" x2="3517" y2="305" stroke="#70c070" stroke-width="3" stroke-dasharray="4,3"/><polygon points="3510,307 3517,290 3525,307" fill="#80c880"/>
 <line x1="3528" y1="290" x2="3528" y2="228" stroke="#70c070" stroke-width="3" stroke-dasharray="4,3"/><polygon points="3521,230 3528,214 3535,230" fill="#80c880"/>
 <rect x="3526" y="335" width="4" height="35" fill="#f07070"/><polygon points="3520,338 3528,322 3536,338" fill="#f07070"/>
 <text x="3518" y="361" font-size="22">X</text>
 <rect x="3539" y="222" width="8" height="50" fill="#e8a0a0"/><rect x="3539" y="222" width="8" height="14" fill="#801010"/>
 <rect x="3539" y="364" width="8" height="8" fill="#30a0e0"/><rect x="3539" y="372" width="8" height="8" fill="#102080"/>
 <g font-size="8"><text x="3560" y="235">extended</text><text x="3560" y="258">confined</text><text x="3560" y="272">(IB)</text><text x="3560" y="371">confined</text><text x="3560" y="384">extended</text></g>
</g>

<!-- ===== Figure 3d/e/f ===== -->
<g>
 <text x="2866" y="422" font-size="19">d</text>
 <rect x="2914" y="652" width="188" height="8" fill="url(#rainG)"/>
 <rect x="2914" y="398" width="188" height="262" fill="none" stroke="#333"/>
 <g id="eqeAxes"></g>
 <g id="eqeLines" clip-path="url(#clipEQE)"></g>
 <text x="3008" y="372" font-size="10" text-anchor="middle">Energy (eV)</text>
 <text x="3008" y="700" font-size="10" text-anchor="middle">Wavelength (nm)</text>
 <text x="2885" y="534" font-size="8" transform="rotate(-90 2885 534)" text-anchor="middle">EQE (%)</text>
 <line x1="3000" y1="411" x2="3018" y2="411" stroke="#111" stroke-width="1.5"/><text x="3020" y="415" font-size="10">No light bias</text>
 <line x1="3000" y1="430" x2="3018" y2="430" stroke="#111" stroke-dasharray="2,1.5"/><text x="3020" y="434" font-size="10">Light bias</text>
 <text x="3055" y="538" font-size="13">78 K</text>
 <text x="2960" y="610" font-size="13" fill="#d02020">295 K</text>
</g>
<g>
 <text x="3132" y="422" font-size="19">e</text>
 <rect x="3175" y="399" width="188" height="265" fill="none" stroke="#333"/>
 <g id="subAxes"></g><g id="subSeries"></g>
 <line x1="3270" y1="418" x2="3290" y2="418" stroke="#7060b0" stroke-width="1.5"/><circle cx="3280" cy="418" r="2.5" fill="#fff" stroke="#7060b0"/><text x="3292" y="422" font-size="9">AM1.5D</text>
 <text x="3270" y="704" font-size="10" text-anchor="middle">Temperature (K)</text>
 <text x="3148" y="532" font-size="8" transform="rotate(-90 3148 532)" text-anchor="middle">Sub-bandgap Photocurrent (μA/cm²)</text>
</g>
<g>
 <text x="3395" y="422" font-size="19">f</text>
 <rect x="3433" y="400" width="182" height="266" fill="none" stroke="#333"/>
 <g id="totAxes"></g><g id="totSeries"></g>
 <line x1="3530" y1="421" x2="3550" y2="421" stroke="#8020e0" stroke-width="1.5"/><circle cx="3540" cy="421" r="2.5" fill="#fff" stroke="#8020e0"/><text x="3552" y="425" font-size="8">AM1.5D</text>
 <text x="3560" y="650" font-size="13">300 K</text>
 <text x="3540" y="704" font-size="9" text-anchor="middle">850 nm Light Bias Intensity (W/cm²)</text>
 <text x="3414" y="532" font-size="8" transform="rotate(-90 3414 532)" text-anchor="middle">Total Photocurrent from EQE (μA/cm²)</text>
</g>
</svg>
</div>

<script>
// ---------------- DATA ----------------
const elWavelengths = [495, 510, 530, 560, 600, 640, 670, 700, 740, 780, 820, 850];
const elValues = [100, 600, 2500, 7000, 15000, 25000, 30000, 26000, 12000, 4500, 1500, 600];
const elTempTemps = [290, 266, 247, 199, 152, 104, 83];
const elTempValues = [316, 1350, 20000, 35000, 30000, 23000, 15000];
const jvVoltages = [0, 0.1, 0.2, 0.3, 0.4, 0.45, 0.5, 0.55, 0.6, 0.65, 0.7, 0.75, 0.8];
const jvSeriesNames = ["1 suns", "2 suns", "4 suns", "8 suns", "16 suns"];
const jv1 = [-0.05, -0.05, -0.048, -0.044, -0.036, -0.026, -0.005, 0.05, 0.20, 0.38, 0.60, 0.88, 1.15];
const jv2 = [-0.10, -0.097, -0.092, -0.087, -0.073, -0.058, -0.032, 0.03, 0.19, 0.42, 0.72, 1.02, 1.3];
const jv4 = [-0.22, -0.215, -0.205, -0.19, -0.165, -0.14, -0.09, 0.0, 0.17, 0.45, 0.82, 1.2, 1.5];
const jv8 = [-0.39, -0.375, -0.36, -0.34, -0.305, -0.27, -0.2, -0.07, 0.16, 0.48, 0.88, 1.3, 1.6];
const jv16 = [-0.70, -0.675, -0.645, -0.60, -0.53, -0.46, -0.34, -0.15, 0.12, 0.48, 0.92, 1.35, 1.7];
const jvXTicks = [0, 0.2, 0.4, 0.6, 0.8];
const jvYTicks = [-0.8, -0.6, -0.4, -0.2, 0.0, 0.2, 0.4, 0.6, 0.8, 1.0];
const absWavelengths = [375, 400, 450, 500, 550, 600, 620, 630, 640, 650];
const absDots = [2, 3, 4, 5, 7, 8, 9, 10, 15, 20, 30, 50, 80, 100];
const abs2 = [20, 11.6, 15.5, 14, 11.6, 9, 6, 3, 0.5, 0];
const abs3 = [30, 19, 23, 20.7, 16.8, 14, 9, 5, 1, 0];
const abs4 = [40, 26.6, 29.7, 27, 22, 19.4, 12, 7, 1.5, 0];
const abs5 = [52, 36, 33.6, 31.8, 27, 24.5, 15, 9, 2, 0];
const abs7 = [80, 72, 53, 40, 31, 28.4, 18, 11, 2.5, 0];
const abs8 = [85, 77.5, 60.7, 44, 32, 29.7, 20, 12, 3, 0];
const abs9 = [88, 82.7, 67, 46.5, 33.6, 31, 21, 13, 3, 0];
const abs10 = [91, 88, 73.6, 53, 35, 33.6, 23, 14, 3.5, 0];
const abs15 = [94, 94, 86.6, 71, 50, 41, 33, 22, 5, 0];
const abs20 = [95, 95, 90, 80, 63, 55.5, 47, 32, 7, 0];
const abs30 = [96, 96, 93, 86.6, 72, 67, 57, 40, 9, 0];
const abs50 = [96.5, 97, 95.6, 93, 86.6, 81, 70, 52, 12, 0];
const abs80 = [97, 97.5, 96.5, 95, 93, 91.5, 84, 68, 20, 0];
const abs100 = [97, 97.5, 97, 96, 94.5, 93.5, 88, 75, 25, 0];
const absXTicks = [400, 450, 500, 550, 600, 650];
const absYTicks = [0, 20, 40, 60, 80, 100];
const absEnergyTicks = [3.2, 3, 2.8, 2.6, 2.4, 2.2, 2];
const eqeWlBlackSolid = [350, 372, 416, 480, 509, 544, 564, 583, 588];
const eqeBlackSolid = [2.73, 4.14, 2.3, 1.58, 0.97, 0.48, 0.42, 0.3, 0.1];
const eqeWlBlackDash = [350, 372, 416, 480, 544, 573, 588, 596];
const eqeBlackDash = [2.4, 4.5, 3.0, 1.87, 0.84, 0.66, 0.48, 0.1];
const eqeWlRedSolid = [350, 372, 416, 446, 480, 500];
const eqeRedSolid = [2.37, 3.5, 1.37, 0.68, 0.3, 0.1];
const eqeWlRedDash = [350, 372, 416, 446, 480, 505];
const eqeRedDash = [2.9, 5.1, 2.0, 1.1, 0.42, 0.1];
const eqeXTicks = [350, 400, 450, 500, 550, 600];
const eqeYTicks = [0.1, 1, 10];
const eqeEnergyTicks = [3.3, 3, 2.7, 2.4, 2.1];
const subTemps = [78, 100, 150, 200, 250, 295];
const subValues = [61.5, 62.5, 67.4, 67.3, 55.3, 51.5];
const subErrors = [3.1, 3.1, 3.4, 3.4, 2.8, 2.6];
const subXTicks = [50, 100, 150, 200, 250, 300];
const subYTicks = [50, 55, 60, 65, 70, 75];
const totBias = [0, 1, 62, 136, 200];
const totValues = [58.8, 62, 71.7, 79.7, 84];
const totErrors = [0, 0, 3.6, 4.0, 4.2];
const totXTicks = [0, 1, 50, 100, 150, 200];
const totYTicks = [60, 70, 80, 90];

// ---------------- HELPERS ----------------
const NS = "http://www.w3.org/2000/svg";
function mk(tag, attrs, parent) {
  const e = document.createElementNS(NS, tag);
  for (const k in attrs) e.setAttribute(k, attrs[k]);
  parent.appendChild(e);
  return e;
}
function txt(str, attrs, parent) { const e = mk("text", attrs, parent); e.textContent = str; return e; }
const $ = id => document.getElementById(id);

// ---------------- FIG 2a ----------------
const elX = w => 2038 + (w - 500) * 0.645;
const elY = v => 160 - (Math.log10(v) - 2) * 25;
{
  const pts = elWavelengths.map((w, i) => elX(w) + "," + elY(elValues[i])).join(" ");
  const pl = mk("polyline", {points: pts, fill: "none", stroke: "#2a4aa8", "stroke-width": 2.5}, $("elCurve"));
  
  
  const tY = t => 277 - (t - 200) * 1.22;
  const eX = v => 2267 + (Math.log10(v) - 2) * 22;
  elTempTemps.forEach((t, i) => {
    const c = mk("circle", {cx: eX(elTempValues[i]), cy: tY(t), r: 2.5, fill: "#2a3a90"}, $("elTempDots"));
    
    
  });
}

// ---------------- FIG 2b ----------------
const jvX = v => 2391 + v / 0.8 * 302;
const jvY = j => 419 - (j + 0.8) / 1.8 * 310;
{
  const ax = $("jvAxes");
  jvXTicks.forEach(v => {
    mk("line", {x1: jvX(v), y1: 419, x2: jvX(v), y2: 414, stroke: "#333"}, ax);
    const t = txt(v.toFixed(1), {x: jvX(v), y: 432, "font-size": 9, "text-anchor": "middle"}, ax);
    
    
  });
  jvYTicks.forEach(v => {
    mk("line", {x1: 2391, y1: jvY(v), x2: 2396, y2: jvY(v), stroke: "#333"}, ax);
    const t = txt(v.toFixed(1), {x: 2387, y: jvY(v) + 3, "font-size": 9, "text-anchor": "end"}, ax);
    
    
  });
  const series = [jv1, jv2, jv4, jv8, jv16];
  const colors = ["#1f9a5a", "#4a78c8", "#7a48a8", "#b02860", "#e02828"];
  series.forEach((s, k) => {
    const pts = s.map((j, i) => jvX(jvVoltages[i]) + "," + jvY(j)).join(" ");
    const pl = mk("polyline", {points: pts, fill: "none", stroke: colors[k], "stroke-width": 2}, $("jvCurves"));
    
    
    const ly = 128 + k * 20.5;
    mk("line", {x1: 2400, y1: ly, x2: 2431, y2: ly, stroke: colors[k], "stroke-width": 2.5}, $("jvLegend"));
    const lt = txt(jvSeriesNames[k], {x: 2433, y: ly + 5, "font-size": 13}, $("jvLegend"));
    
    
  });
}

// ---------------- FIG 2c ----------------
const abX = w => 2071 + (w - 400) * 2.48;
const abY = a => 651 - a * 1.44;
{
  const curves = [abs2, abs3, abs4, abs5, abs7, abs8, abs9, abs10, abs15, abs20, abs30, abs50, abs80, abs100];
  const fills = ["#c9b597", "#cfbc9f", "#d5c3a6", "#7fb9a2", "#52a895", "#33a08e", "#1f988c", "#128a94", "#0f7a90", "#146a8a", "#165a82", "#154b73", "#133c63", "#11305a"];
  for (let k = curves.length - 1; k >= 0; k--) {
    const top = curves[k].map((a, i) => abX(absWavelengths[i]) + "," + abY(a)).join(" ");
    const poly = mk("polygon", {points: top + " " + abX(650) + "," + abY(0) + " " + abX(375) + "," + abY(0), fill: fills[k], stroke: "#111", "stroke-width": 0.8}, $("absAreas"));
    
    
  }
  const dash = abs10.map((a, i) => abX(absWavelengths[i]) + "," + abY(a)).join(" ");
  const dl = mk("polyline", {points: dash, fill: "none", stroke: "#fff", "stroke-width": 1.3, "stroke-dasharray": "4,3"}, $("absAreas"));
  
  
  const ax = $("absAxes");
  absXTicks.forEach(w => {
    mk("line", {x1: abX(w), y1: 651, x2: abX(w), y2: 656, stroke: "#333"}, ax);
    const t = txt(String(w), {x: abX(w), y: 668, "font-size": 10, "text-anchor": "middle"}, ax);
    
    
  });
  absYTicks.forEach(a => {
    mk("line", {x1: 2005, y1: abY(a), x2: 2010, y2: abY(a), stroke: "#333"}, ax);
    const t = txt(String(a), {x: 2003, y: abY(a) + 4, "font-size": 10, "text-anchor": "end"}, ax);
    
    
  });
  absEnergyTicks.forEach(e => {
    const x = abX(1239.84 / e);
    mk("line", {x1: x, y1: 507, x2: x, y2: 512, stroke: "#333"}, ax);
    const t = txt(String(e), {x: x, y: 496, "font-size": 10, "text-anchor": "middle"}, ax);
    
    
  });
}

// ---------------- FIG 3b pads (decorative photo texture) ----------------
{
  const g = $("photoPads");
  for (let r = 0; r < 6; r++) for (let c = 0; c < 6; c++) {
    const x = 3255 + c * 32 + (r % 2) * 10, y = 232 + r * 25;
    mk("rect", {x: x, y: y, width: 8, height: 10, transform: "rotate(-30 " + x + " " + y + ")"}, g);
  }
}

// ---------------- FIG 3d ----------------
const eqX = w => 2914 + (w - 350) / 250 * 188;
const eqY = v => 660 - (Math.log10(v) + 1) * 126.5;
{
  const ax = $("eqeAxes");
  eqeXTicks.forEach(w => {
    mk("line", {x1: eqX(w), y1: 660, x2: eqX(w), y2: 664, stroke: "#333"}, ax);
    const t = txt(String(w), {x: eqX(w), y: 676, "font-size": 8, "text-anchor": "middle"}, ax);
    
    
  });
  eqeYTicks.forEach(v => {
    const t = txt(String(v), {x: 2910, y: eqY(v) + 4, "font-size": 9, "text-anchor": "end"}, ax);
    
    
  });
  eqeEnergyTicks.forEach(e => {
    const x = eqX(1239.84 / e);
    mk("line", {x1: x, y1: 398, x2: x, y2: 402, stroke: "#333"}, ax);
    const t = txt(String(e), {x: x, y: 389, "font-size": 8, "text-anchor": "middle"}, ax);
    
    
  });
  const defs = [[eqeWlBlackSolid, eqeBlackSolid, "#111", ""], [eqeWlBlackDash, eqeBlackDash, "#111", "3,2"], [eqeWlRedSolid, eqeRedSolid, "#d02020", ""], [eqeWlRedDash, eqeRedDash, "#d02020", "3,2"]];
  const names = ["eqe-78k-no-bias", "eqe-78k-light-bias", "eqe-295k-no-bias", "eqe-295k-light-bias"];
  defs.forEach((d, k) => {
    const pts = d[1].map((v, i) => eqX(d[0][i]) + "," + eqY(v)).join(" ");
    const pl = mk("polyline", {points: pts, fill: "none", stroke: d[2], "stroke-width": 1.2, "stroke-dasharray": d[3] || "none"}, $("eqeLines"));
    
    
  });
}

// ---------------- FIG 3e ----------------
const sbX = t => 3178 + (t - 50) / 250 * 169;
const sbY = v => 643 - (v - 50) * 9.76;
{
  const ax = $("subAxes");
  subXTicks.forEach(t => {
    mk("line", {x1: sbX(t), y1: 664, x2: sbX(t), y2: 659, stroke: "#333"}, ax);
    const l = txt(String(t), {x: sbX(t), y: 680, "font-size": 8, "text-anchor": "middle"}, ax);
    
    
  });
  subYTicks.forEach(v => {
    mk("line", {x1: 3175, y1: sbY(v), x2: 3180, y2: sbY(v), stroke: "#333"}, ax);
    const l = txt(String(v), {x: 3171, y: sbY(v) + 3, "font-size": 8, "text-anchor": "end"}, ax);
    
    
  });
  const g = $("subSeries");
  subTemps.forEach((t, i) => {
    const eb = mk("line", {x1: sbX(t), y1: sbY(subValues[i] - subErrors[i]), x2: sbX(t), y2: sbY(subValues[i] + subErrors[i]), stroke: "#b8b0d0"}, g);
    
    
  });
  const pl = mk("polyline", {points: subTemps.map((t, i) => sbX(t) + "," + sbY(subValues[i])).join(" "), fill: "none", stroke: "#7060b0", "stroke-width": 1.5}, g);
  
  
  subTemps.forEach((t, i) => {
    const c = mk("circle", {cx: sbX(t), cy: sbY(subValues[i]), r: 3, fill: "#a090d8", stroke: "#6050a0"}, g);
    
    
  });
}

// ---------------- FIG 3f ----------------
const tfX = v => v <= 1 ? 3433 + v * 22 : 3458 + v / 200 * 156;
const tfY = v => 400 + (90 - v) * 7.63;
{
  const ax = $("totAxes");
  totXTicks.forEach(v => {
    mk("line", {x1: tfX(v), y1: 666, x2: tfX(v), y2: 661, stroke: "#333"}, ax);
    const l = txt(String(v), {x: tfX(v), y: 682, "font-size": 8, "text-anchor": "middle"}, ax);
    
    
  });
  totYTicks.forEach(v => {
    mk("line", {x1: 3433, y1: tfY(v), x2: 3438, y2: tfY(v), stroke: "#333"}, ax);
    const l = txt(String(v), {x: 3429, y: tfY(v) + 3, "font-size": 8, "text-anchor": "end"}, ax);
    
    
  });
  mk("line", {x1: 3458, y1: 400, x2: 3458, y2: 666, stroke: "#333"}, ax);
  const g = $("totSeries");
  totBias.forEach((b, i) => {
    if (totErrors[i] > 0) {
      const eb = mk("line", {x1: tfX(b), y1: tfY(totValues[i] - totErrors[i]), x2: tfX(b), y2: tfY(totValues[i] + totErrors[i]), stroke: "#c0a8e8"}, g);
      
      
    }
  });
  const pl = mk("polyline", {points: totBias.map((b, i) => tfX(b) + "," + tfY(totValues[i])).join(" "), fill: "none", stroke: "#8020e0", "stroke-width": 1.5}, g);
  
  
  totBias.forEach((b, i) => {
    const c = mk("circle", {cx: tfX(b), cy: tfY(totValues[i]), r: 2.8, fill: "#a060f0", stroke: "#6010c0"}, g);
    
    
  });
}
</script>
</body></html>
